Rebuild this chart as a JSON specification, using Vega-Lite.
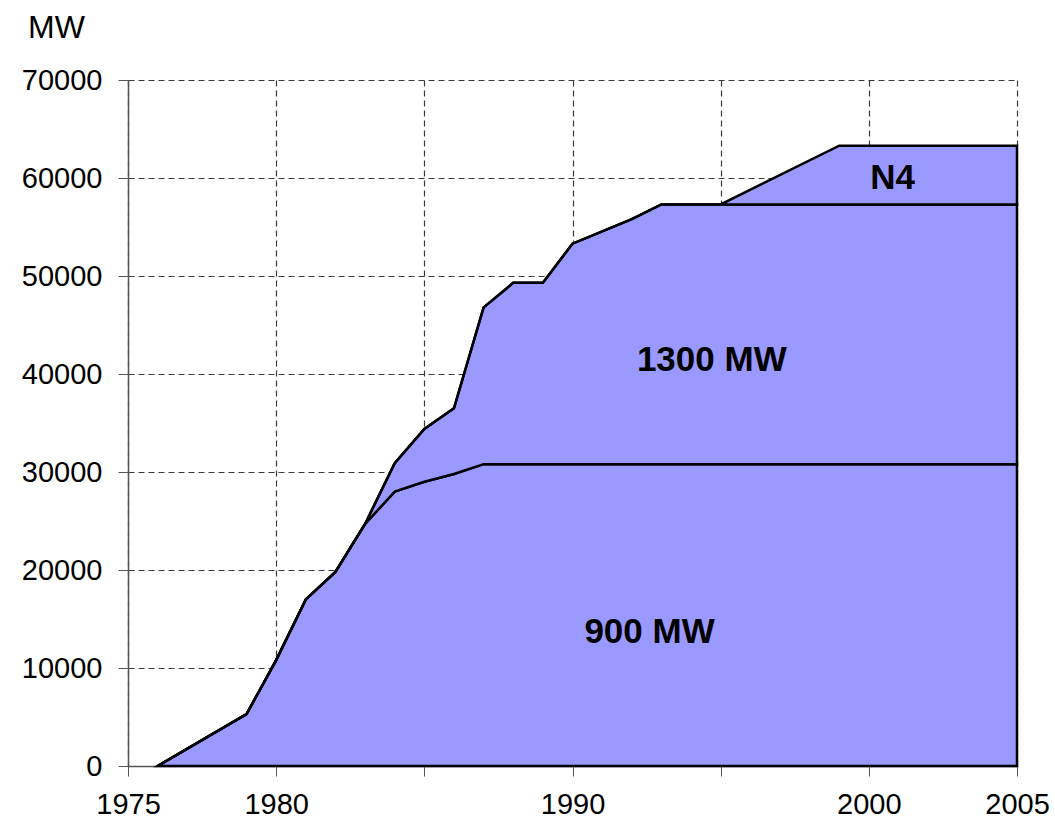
{
  "$schema": "https://vega.github.io/schema/vega-lite/v6.json",
  "width": 889,
  "height": 686,
  "autosize": {"type": "none"},
  "padding": {"left": 128, "top": 80, "right": 38, "bottom": 59},
  "background": "white",
  "config": {
    "view": {"stroke": null},
    "font": "Liberation Sans"
  },
  "datasets": {
    "capacity": [
      {"year": 1976, "type": "900 MW", "rank": 1, "MW": 0},
      {"year": 1979, "type": "900 MW", "rank": 1, "MW": 5300},
      {"year": 1980, "type": "900 MW", "rank": 1, "MW": 10800},
      {"year": 1981, "type": "900 MW", "rank": 1, "MW": 17000},
      {"year": 1982, "type": "900 MW", "rank": 1, "MW": 19800},
      {"year": 1983, "type": "900 MW", "rank": 1, "MW": 24700},
      {"year": 1984, "type": "900 MW", "rank": 1, "MW": 28000},
      {"year": 1985, "type": "900 MW", "rank": 1, "MW": 29000},
      {"year": 1986, "type": "900 MW", "rank": 1, "MW": 29800},
      {"year": 1987, "type": "900 MW", "rank": 1, "MW": 30800},
      {"year": 1988, "type": "900 MW", "rank": 1, "MW": 30800},
      {"year": 1989, "type": "900 MW", "rank": 1, "MW": 30800},
      {"year": 1990, "type": "900 MW", "rank": 1, "MW": 30800},
      {"year": 1992, "type": "900 MW", "rank": 1, "MW": 30800},
      {"year": 1993, "type": "900 MW", "rank": 1, "MW": 30800},
      {"year": 1995, "type": "900 MW", "rank": 1, "MW": 30800},
      {"year": 1999, "type": "900 MW", "rank": 1, "MW": 30800},
      {"year": 2005, "type": "900 MW", "rank": 1, "MW": 30800},

      {"year": 1976, "type": "1300 MW", "rank": 2, "MW": 0},
      {"year": 1979, "type": "1300 MW", "rank": 2, "MW": 0},
      {"year": 1980, "type": "1300 MW", "rank": 2, "MW": 0},
      {"year": 1981, "type": "1300 MW", "rank": 2, "MW": 0},
      {"year": 1982, "type": "1300 MW", "rank": 2, "MW": 0},
      {"year": 1983, "type": "1300 MW", "rank": 2, "MW": 0},
      {"year": 1984, "type": "1300 MW", "rank": 2, "MW": 2900},
      {"year": 1985, "type": "1300 MW", "rank": 2, "MW": 5400},
      {"year": 1986, "type": "1300 MW", "rank": 2, "MW": 6700},
      {"year": 1987, "type": "1300 MW", "rank": 2, "MW": 16000},
      {"year": 1988, "type": "1300 MW", "rank": 2, "MW": 18500},
      {"year": 1989, "type": "1300 MW", "rank": 2, "MW": 18500},
      {"year": 1990, "type": "1300 MW", "rank": 2, "MW": 22500},
      {"year": 1992, "type": "1300 MW", "rank": 2, "MW": 25000},
      {"year": 1993, "type": "1300 MW", "rank": 2, "MW": 26500},
      {"year": 1995, "type": "1300 MW", "rank": 2, "MW": 26500},
      {"year": 1999, "type": "1300 MW", "rank": 2, "MW": 26500},
      {"year": 2005, "type": "1300 MW", "rank": 2, "MW": 26500},

      {"year": 1976, "type": "N4", "rank": 3, "MW": 0},
      {"year": 1979, "type": "N4", "rank": 3, "MW": 0},
      {"year": 1980, "type": "N4", "rank": 3, "MW": 0},
      {"year": 1981, "type": "N4", "rank": 3, "MW": 0},
      {"year": 1982, "type": "N4", "rank": 3, "MW": 0},
      {"year": 1983, "type": "N4", "rank": 3, "MW": 0},
      {"year": 1984, "type": "N4", "rank": 3, "MW": 0},
      {"year": 1985, "type": "N4", "rank": 3, "MW": 0},
      {"year": 1986, "type": "N4", "rank": 3, "MW": 0},
      {"year": 1987, "type": "N4", "rank": 3, "MW": 0},
      {"year": 1988, "type": "N4", "rank": 3, "MW": 0},
      {"year": 1989, "type": "N4", "rank": 3, "MW": 0},
      {"year": 1990, "type": "N4", "rank": 3, "MW": 0},
      {"year": 1992, "type": "N4", "rank": 3, "MW": 0},
      {"year": 1993, "type": "N4", "rank": 3, "MW": 0},
      {"year": 1995, "type": "N4", "rank": 3, "MW": 0},
      {"year": 1999, "type": "N4", "rank": 3, "MW": 6000},
      {"year": 2005, "type": "N4", "rank": 3, "MW": 6000}
    ],
    "labels": [
      {"label": "N4", "x": 2000.8, "y": 60000},
      {"label": "1300 MW", "x": 1994.7, "y": 41400},
      {"label": "900 MW", "x": 1992.6, "y": 13650}
    ]
  },
  "layer": [
    {
      "data": {"name": "capacity"},
      "mark": {"type": "area", "fill": "#9999FF", "stroke": "black", "strokeWidth": 2.5, "strokeJoin": "miter", "opacity": 1, "fillOpacity": 1},
      "encoding": {
        "x": {
          "field": "year", "type": "quantitative",
          "scale": {"domain": [1975, 2005], "nice": false, "zero": false},
          "axis": {
            "title": null,
            "values": [1975, 1980, 1985, 1990, 1995, 2000, 2005],
            "format": "d",
            "labelExpr": "datum.value == 1985 || datum.value == 1995 ? '' : datum.label",
            "labelFont": "Liberation Sans",
            "labelFontSize": 29,
            "labelColor": "black",
            "labelPadding": 14,
            "labelFlush": false,
            "labelOverlap": false,
            "tickSize": 10,
            "tickColor": "#555555",
            "domainColor": "#555555",
            "domainWidth": 1.5,
            "grid": true,
            "gridColor": "#3a3a3a",
            "gridDash": [6, 4],
            "gridWidth": 1.2
          }
        },
        "y": {
          "field": "MW", "type": "quantitative",
          "stack": "zero",
          "scale": {"domain": [0, 70000], "nice": false},
          "axis": {
            "title": "MW",
            "titleAngle": 0,
            "titleX": -72,
            "titleY": -43,
            "titleAlign": "center",
            "titleBaseline": "alphabetic",
            "titleFont": "Liberation Sans",
            "titleFontSize": 32,
            "titleFontWeight": "normal",
            "titleColor": "black",
            "values": [0, 10000, 20000, 30000, 40000, 50000, 60000, 70000],
            "format": "d",
            "labelFont": "Liberation Sans",
            "labelFontSize": 29,
            "labelColor": "black",
            "labelPadding": 16,
            "labelFlush": false,
            "tickSize": 10,
            "tickColor": "#555555",
            "domainColor": "#555555",
            "domainWidth": 1.5,
            "grid": true,
            "gridColor": "#3a3a3a",
            "gridDash": [6, 4],
            "gridWidth": 1.2
          }
        },
        "detail": {"field": "type"},
        "order": {"field": "rank", "type": "quantitative"}
      }
    },
    {
      "data": {"name": "labels"},
      "mark": {"type": "text", "font": "Liberation Sans", "fontSize": 35, "fontWeight": "bold", "color": "black", "align": "center", "baseline": "middle"},
      "encoding": {
        "x": {"field": "x", "type": "quantitative"},
        "y": {"field": "y", "type": "quantitative"},
        "text": {"field": "label"}
      }
    }
  ]
}
